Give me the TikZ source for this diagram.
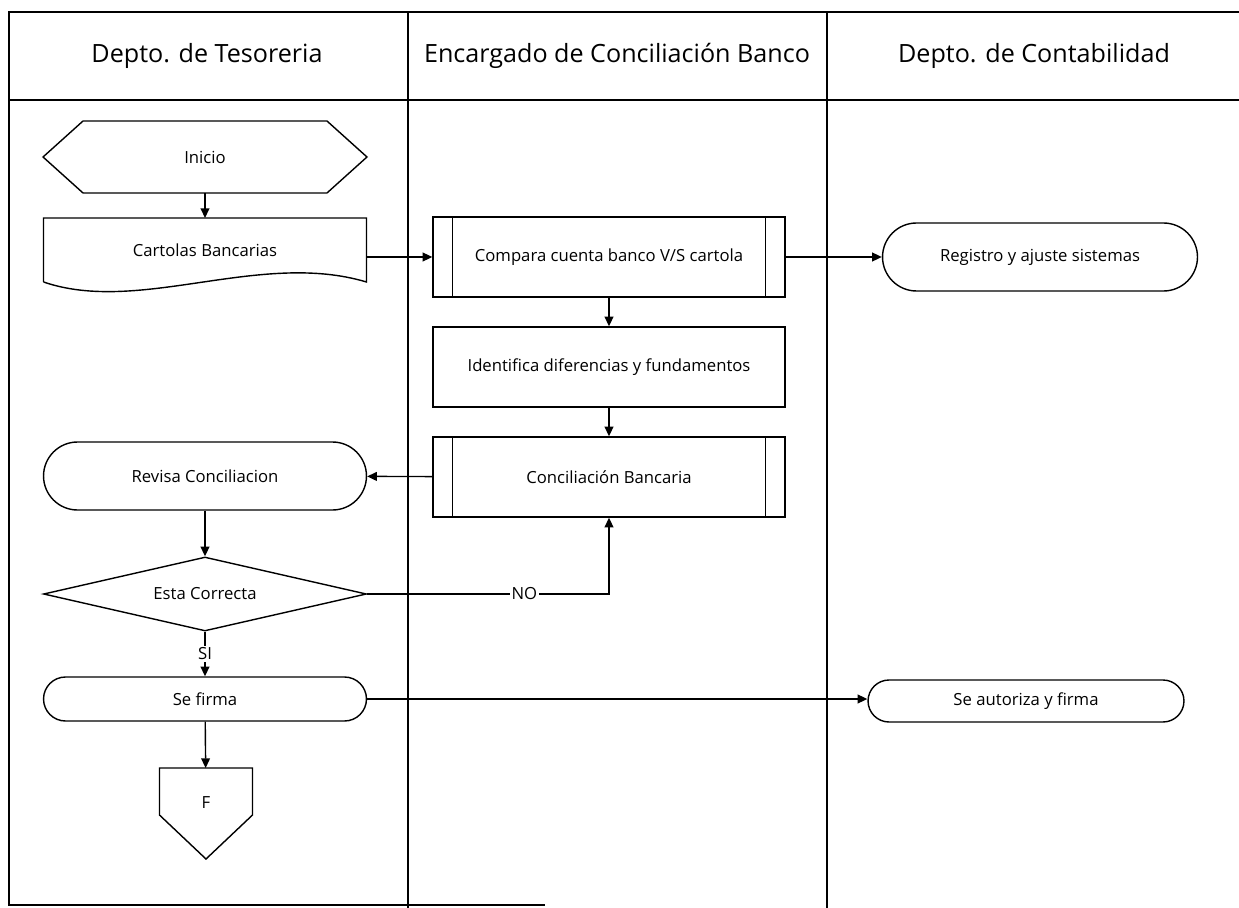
\documentclass[tikz,border=0pt]{standalone}
\usepackage{fontspec}
\setmainfont{Open Sans}
\usetikzlibrary{arrows.meta,shapes.geometric}

\newcommand{\headfont}{\fontsize{14.3}{17}\selectfont}
\newcommand{\boxfont}{\fontsize{9.5}{11}\selectfont}

\begin{document}
\begin{tikzpicture}[x=0.02cm,y=-0.02cm,>={Triangle[length=5.5pt,width=5pt]},
  lane/.style={line width=1.1pt},
  flow/.style={->,line width=0.8pt},
  shape line/.style={line width=0.8pt},
  blank node/.style={rectangle,inner sep=0pt,outer sep=0pt,font=\boxfont},
  proc node/.style={draw,rectangle,line width=0.8pt,minimum width=7.04cm,minimum height=1.6cm,font=\boxfont},
  term node/.style={draw,rectangle,line width=0.8pt,minimum width=6.46cm,font=\boxfont},
  dec node/.style={draw,diamond,aspect=4.4,line width=0.8pt,inner sep=0pt,minimum width=6.46cm,minimum height=1.48cm,font=\boxfont},
  label node/.style={fill=white,inner sep=1pt,font=\boxfont}]

  \useasboundingbox (0,0) rectangle (1239,908);

  % swimlane frame
  \draw[lane] (8,12) -- (1239,12);
  \draw[lane] (8,100) -- (1239,100);
  \draw[lane] (9,12) -- (9,905) -- (545,905);
  \draw[lane] (408,12) -- (408,908);
  \draw[lane] (827,12) -- (827,908);

  \node[font=\headfont] (tesoreria) at (207,56) {Depto. de Tesoreria};
  \node[font=\headfont] (encargado) at (617,56) {Encargado de Conciliación Banco};
  \node[font=\headfont] (contabilidad) at (1034,56) {Depto. de Contabilidad};

  % nodes
  \node[blank node,minimum width=6.48cm,minimum height=1.44cm] (inicio) at (205,157) {Inicio};
  \node[blank node,minimum width=6.46cm,minimum height=1.28cm] (cartolas) at (205,250) {Cartolas Bancarias};
  \node[proc node] (compara) at (609,257) {Compara cuenta banco V/S cartola};
  \node[proc node] (identifica) at (609,367) {Identifica diferencias y fundamentos};
  \node[proc node] (concil) at (609,477) {Conciliación Bancaria};
  \node[term node,minimum width=6.3cm,minimum height=1.36cm,rounded corners=0.68cm] (registro) at (1040,257) {Registro y ajuste sistemas};
  \node[term node,minimum height=1.36cm,rounded corners=0.68cm] (revisa) at (205,476) {Revisa Conciliacion};
  \node[dec node] (correcta) at (205,594) {Esta Correcta};
  \node[term node,minimum height=0.88cm,rounded corners=0.44cm] (firma) at (205,699) {Se firma};
  \node[term node,minimum width=6.32cm,minimum height=0.84cm,rounded corners=0.42cm] (autoriza) at (1026,701) {Se autoriza y firma};
  \node[blank node,minimum width=1.86cm,minimum height=1.4cm] (fin) at (206,803) {F};

  % hand drawn outlines
  \draw[shape line] ([xshift=0.8cm]inicio.north west) -- ([xshift=-0.8cm]inicio.north east)
    -- (inicio.east) -- ([xshift=-0.8cm]inicio.south east) -- ([xshift=0.8cm]inicio.south west)
    -- (inicio.west) -- cycle;
  \draw[shape line] (cartolas.south west) -- (cartolas.north west) -- (cartolas.north east)
    -- (cartolas.south east) .. controls +(-107,-32) and +(96,33) .. (cartolas.south west);
  \draw[shape line] (fin.north west) -- (fin.north east) -- ++(0,47) -- ++(-46.5,44)
    -- ++(-46.5,-44) -- cycle;
  \foreach \n in {compara,concil} {
    \draw[shape line] ([xshift=0.4cm]\n.north west) -- ([xshift=0.4cm]\n.south west);
    \draw[shape line] ([xshift=-0.4cm]\n.north east) -- ([xshift=-0.4cm]\n.south east);
  }

  % connectors
  \path[flow]
    (inicio) edge (cartolas.north)
    (cartolas.east |- compara.west) edge (compara.west)
    (compara) edge (registro)
    (compara) edge (identifica)
    (identifica) edge (concil)
    (concil) edge (revisa)
    (revisa) edge (correcta)
    (correcta) edge node[label node] {SI} (firma)
    (firma) edge (fin)
    (firma.east) edge (firma.east -| autoriza.west);
  \draw[flow] (correcta.east) -- node[label node,pos=0.65] {NO} (correcta.east -| concil.south) -- (concil.south);
\end{tikzpicture}
\end{document}
